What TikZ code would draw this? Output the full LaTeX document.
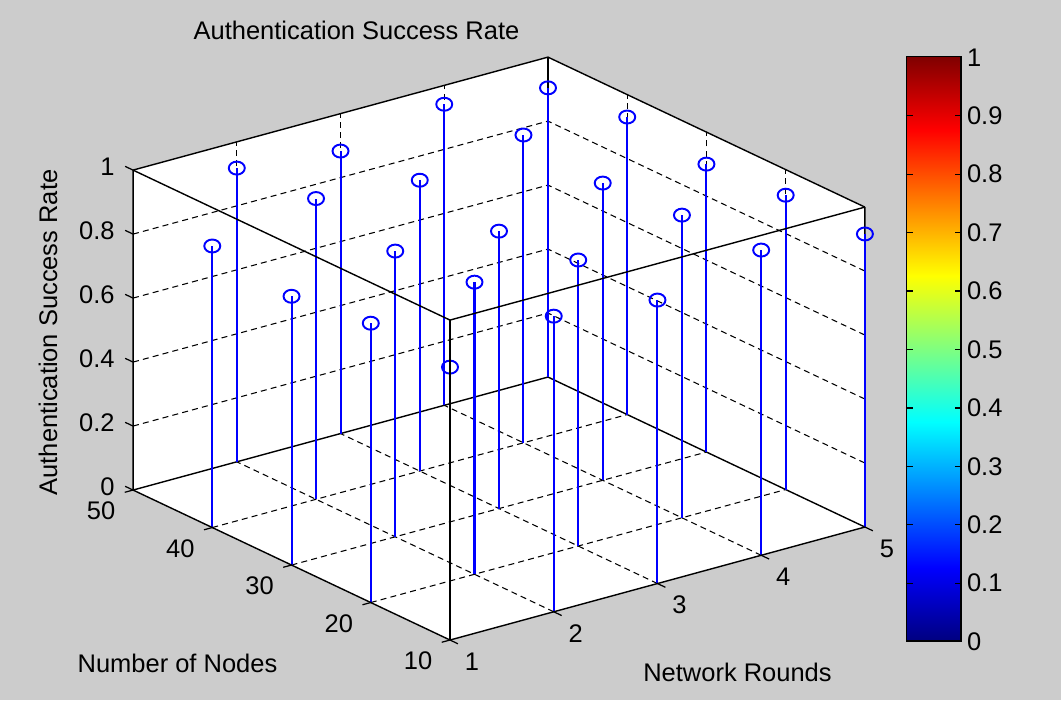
\documentclass[tikz,border=0pt]{standalone}
\usepackage{fontspec}
\setmainfont{Liberation Sans}
\usepackage{tikz}
\usetikzlibrary{
    positioning,
    shapes.geometric
}
\usepackage{xcolor}
\definecolor{figgray}{RGB}{204,204,204}
\definecolor{stemblue}{RGB}{0,0,255}
\pgfdeclareverticalshading{jet}{100bp}{rgb(0bp)=(0,0,0.5); rgb(25bp)=(0,0,0.5); rgb(31.25bp)=(0,0,1); rgb(43.75bp)=(0,1,1); rgb(56.25bp)=(1,1,0); rgb(68.75bp)=(1,0,0); rgb(75bp)=(0.5,0,0); rgb(100bp)=(0.5,0,0)}

\begin{document}
\begin{tikzpicture}[
    x=0.02cm, y=-0.02cm,
    ticklabel/.style={
        inner sep=0pt,
        text=black,
        font=\fontsize{14.5}{17}\selectfont
    },
    axislabel/.style={ticklabel},
    boxedge/.style={draw=black, line width=0.8pt},
    gridline/.style={draw=black, line width=0.6pt, dash pattern=on 3.4pt off 2.4pt},
    tickmark/.style={draw=black, line width=0.7pt},
    stemline/.style={draw=stemblue, line width=1.15pt},
    stemmark/.style={
        ellipse,
        draw=stemblue,
        line width=1.1pt,
        inner sep=0pt,
        minimum width=0.32cm,
        minimum height=0.26cm
    },
    colorbar/.style={
        rectangle,
        draw=black,
        line width=0.75pt,
        shading=jet,
        minimum width=1.09cm,
        minimum height=11.69cm
    }
]

% Figure background
\useasboundingbox (0,0) rectangle (1061,700);
\fill[figgray] (0,0) rectangle (1061,700);

% Titles
\node[axislabel] (title) at (356.5,30.5) {Authentication Success Rate};
\node[axislabel, rotate=90] (zlabel) at (48,332.5) {Authentication Success Rate};
\node[axislabel] (nlabel) at (177.5,663.5) {Number of Nodes};
\node[axislabel] (rlabel) at (737.5,672) {Network Rounds};

% 3D axes: (rounds, nodes/10, rate)
\begin{scope}[shift={(425.5,705.75)}, x={(2.075cm,0.565cm)}, y={(-1.585cm,0.75cm)}, z={(0cm,6.4cm)}]

\coordinate (fb) at (1,1,0);
\coordinate (lb) at (1,5,0);
\coordinate (rb) at (5,1,0);
\coordinate (bb) at (5,5,0);
\coordinate (ft) at (1,1,1);
\coordinate (lt) at (1,5,1);
\coordinate (rt) at (5,1,1);
\coordinate (bt) at (5,5,1);

\fill[white] (lb) -- (lt) -- (bt) -- (rt) -- (rb) -- (fb) -- cycle;

% Grid on walls and floor
\foreach \v in {0.2,0.4,0.6,0.8} {
    \draw[gridline] (1,5,\v) -- (5,5,\v) -- (5,1,\v);
}
\foreach \k in {2,3,4} {
    \draw[gridline] (\k,5,0) -- (\k,5,1);
    \draw[gridline] (5,\k,0) -- (5,\k,1);
    \draw[gridline] (\k,1,0) -- (\k,5,0);
    \draw[gridline] (1,\k,0) -- (5,\k,0);
}

% Back edges of the box
\draw[boxedge] (lt) -- (lb) -- (bb) -- (rb) -- (rt);
\draw[boxedge] (lt) -- (bt) -- (rt);
\draw[boxedge] (bb) -- (bt);

% Stems
\foreach \r/\n/\v in {
    1/1/0.853, 1/2/0.873, 1/3/0.840, 1/4/0.880,
    2/1/0.924, 2/2/0.913, 2/3/0.893, 2/4/0.940, 2/5/0.918,
    3/1/0.886, 3/2/0.894, 3/3/0.867, 3/4/0.909, 3/5/0.883,
    4/1/0.954, 4/2/0.946, 4/3/0.929, 4/4/0.962, 4/5/0.941,
    5/1/0.916, 5/2/0.920, 5/3/0.900, 5/4/0.930, 5/5/0.904} {
    \coordinate (b\r\n) at (\r,\n,0);
    \node[stemmark] (m\r\n) at (\r,\n,\v) {};
    \draw[stemline] (b\r\n) -- (m\r\n.center);
}

% Front edges of the box
\draw[boxedge] (lb) -- (fb) -- (rb);
\draw[boxedge] (lt) -- (ft) -- (rt);
\draw[boxedge] (fb) -- (ft);

% Tick marks and labels
\foreach \v [count=\i] in {0,0.2,0.4,0.6,0.8,1} {
    \draw[tickmark] (1,5,\v) -- (1,5.1,\v) node[ticklabel, anchor=east, xshift=-0.2cm] (zt\i) {\v};
}
\foreach \n in {1,...,5} {
    \draw[tickmark] (1,\n,0) -- (0.92,\n,0);
    \node[ticklabel] (nt\n) at ([xshift=-0.64cm,yshift=-0.42cm]1,\n,0) {\n0};
}
\foreach \r in {1,...,5} {
    \draw[tickmark] (\r,1,0) -- (\r,0.9,0);
    \node[ticklabel] (rt\r) at ([xshift=0.44cm,yshift=-0.43cm]\r,1,0) {\r};
}
\end{scope}

% Colorbar
\node[colorbar] (cbar) at (933.75,348.8) {};
\foreach \t [count=\k from 0] in {0,0.1,0.2,0.3,0.4,0.5,0.6,0.7,0.8,0.9,1} {
    \node[ticklabel, anchor=west] (ct\k) at ([xshift=0.1cm,yshift=\k*1.169cm]cbar.south east) {\t};
}
\foreach \k in {1,...,9} {
    \draw[tickmark] ([yshift=\k*1.169cm]cbar.south west) -- ++(0.14cm,0);
    \draw[tickmark] ([yshift=\k*1.169cm]cbar.south east) -- ++(-0.14cm,0);
}

\end{tikzpicture}
\end{document}
